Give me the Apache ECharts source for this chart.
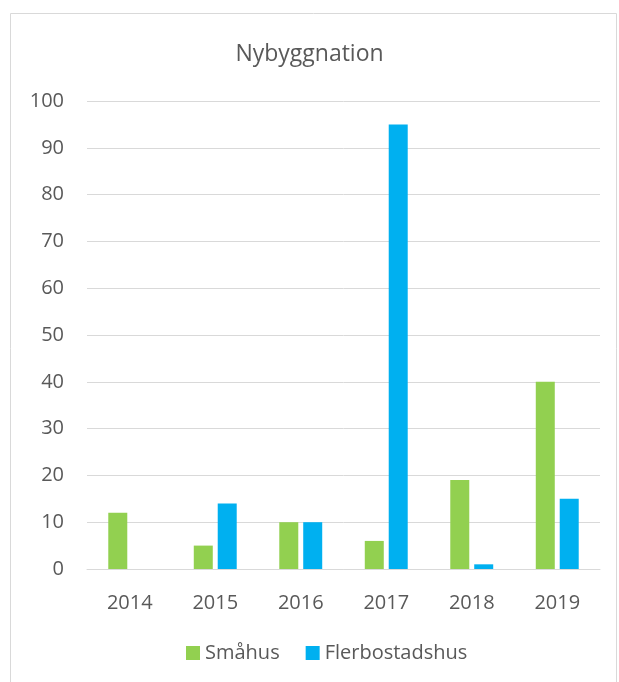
<!DOCTYPE html>
<html>
<head>
<meta charset="utf-8">
<script src="https://cdn.jsdelivr.net/npm/echarts@6/dist/echarts.min.js"></script>
<style>
  html, body { margin: 0; padding: 0; background: #fff; }
  #chart { width: 619px; height: 682px; }
</style>
</head>
<body>
<div id="chart"></div>
<script>
const years = ['2014', '2015', '2016', '2017', '2018', '2019'];
const smahus = [12, 5, 10, 6, 19, 40];
const flerbostadshus = [0, 14, 10, 95, 1, 15];
const yTicks = [0, 10, 20, 30, 40, 50, 60, 70, 80, 90, 100];

const font = 'Open Sans, Noto Sans, sans-serif';
const textColor = '#595959';

const myChart = echarts.init(document.getElementById('chart'));
const option = {
  animation: false,
  graphic: [{
    type: 'rect',
    shape: { x: 10.5, y: 13.5, width: 606, height: 680 },
    style: { fill: 'none', stroke: '#d9d9d9', lineWidth: 1 },
    silent: true
  }],
  title: {
    text: 'Nybyggnation',
    left: 'center',
    top: 38,
    textStyle: { fontFamily: font, fontSize: 23, fontWeight: 'normal', color: textColor }
  },
  legend: {
    bottom: 14,
    left: 181,
    itemWidth: 14,
    itemHeight: 14,
    itemGap: 26,
    icon: 'rect',
    textStyle: { fontFamily: font, fontSize: 20, color: textColor }
  },
  grid: {
    left: 87,
    right: 19,
    top: 101,
    bottom: 113,
    containLabel: false
  },
  xAxis: {
    type: 'category',
    data: years,
    axisLine: { lineStyle: { color: '#d9d9d9', width: 1 } },
    axisTick: { show: false },
    axisLabel: { fontFamily: font, fontSize: 20, color: textColor, margin: 24 }
  },
  yAxis: {
    type: 'value',
    min: yTicks[0],
    max: yTicks[yTicks.length - 1],
    interval: 10,
    axisLine: { show: false },
    axisTick: { show: false },
    splitLine: { lineStyle: { color: '#d9d9d9', width: 1 } },
    axisLabel: { fontFamily: font, fontSize: 20, color: textColor, margin: 23 }
  },
  series: [
    {
      name: 'Småhus',
      type: 'bar',
      data: smahus,
      barWidth: 19,
      barGap: '26%',
      itemStyle: { color: '#92d050' }
    },
    {
      name: 'Flerbostadshus',
      type: 'bar',
      data: flerbostadshus,
      barWidth: 19,
      barGap: '26%',
      itemStyle: { color: '#00b0f0' }
    }
  ]
};
myChart.setOption(option);
</script>
</body>
</html>
